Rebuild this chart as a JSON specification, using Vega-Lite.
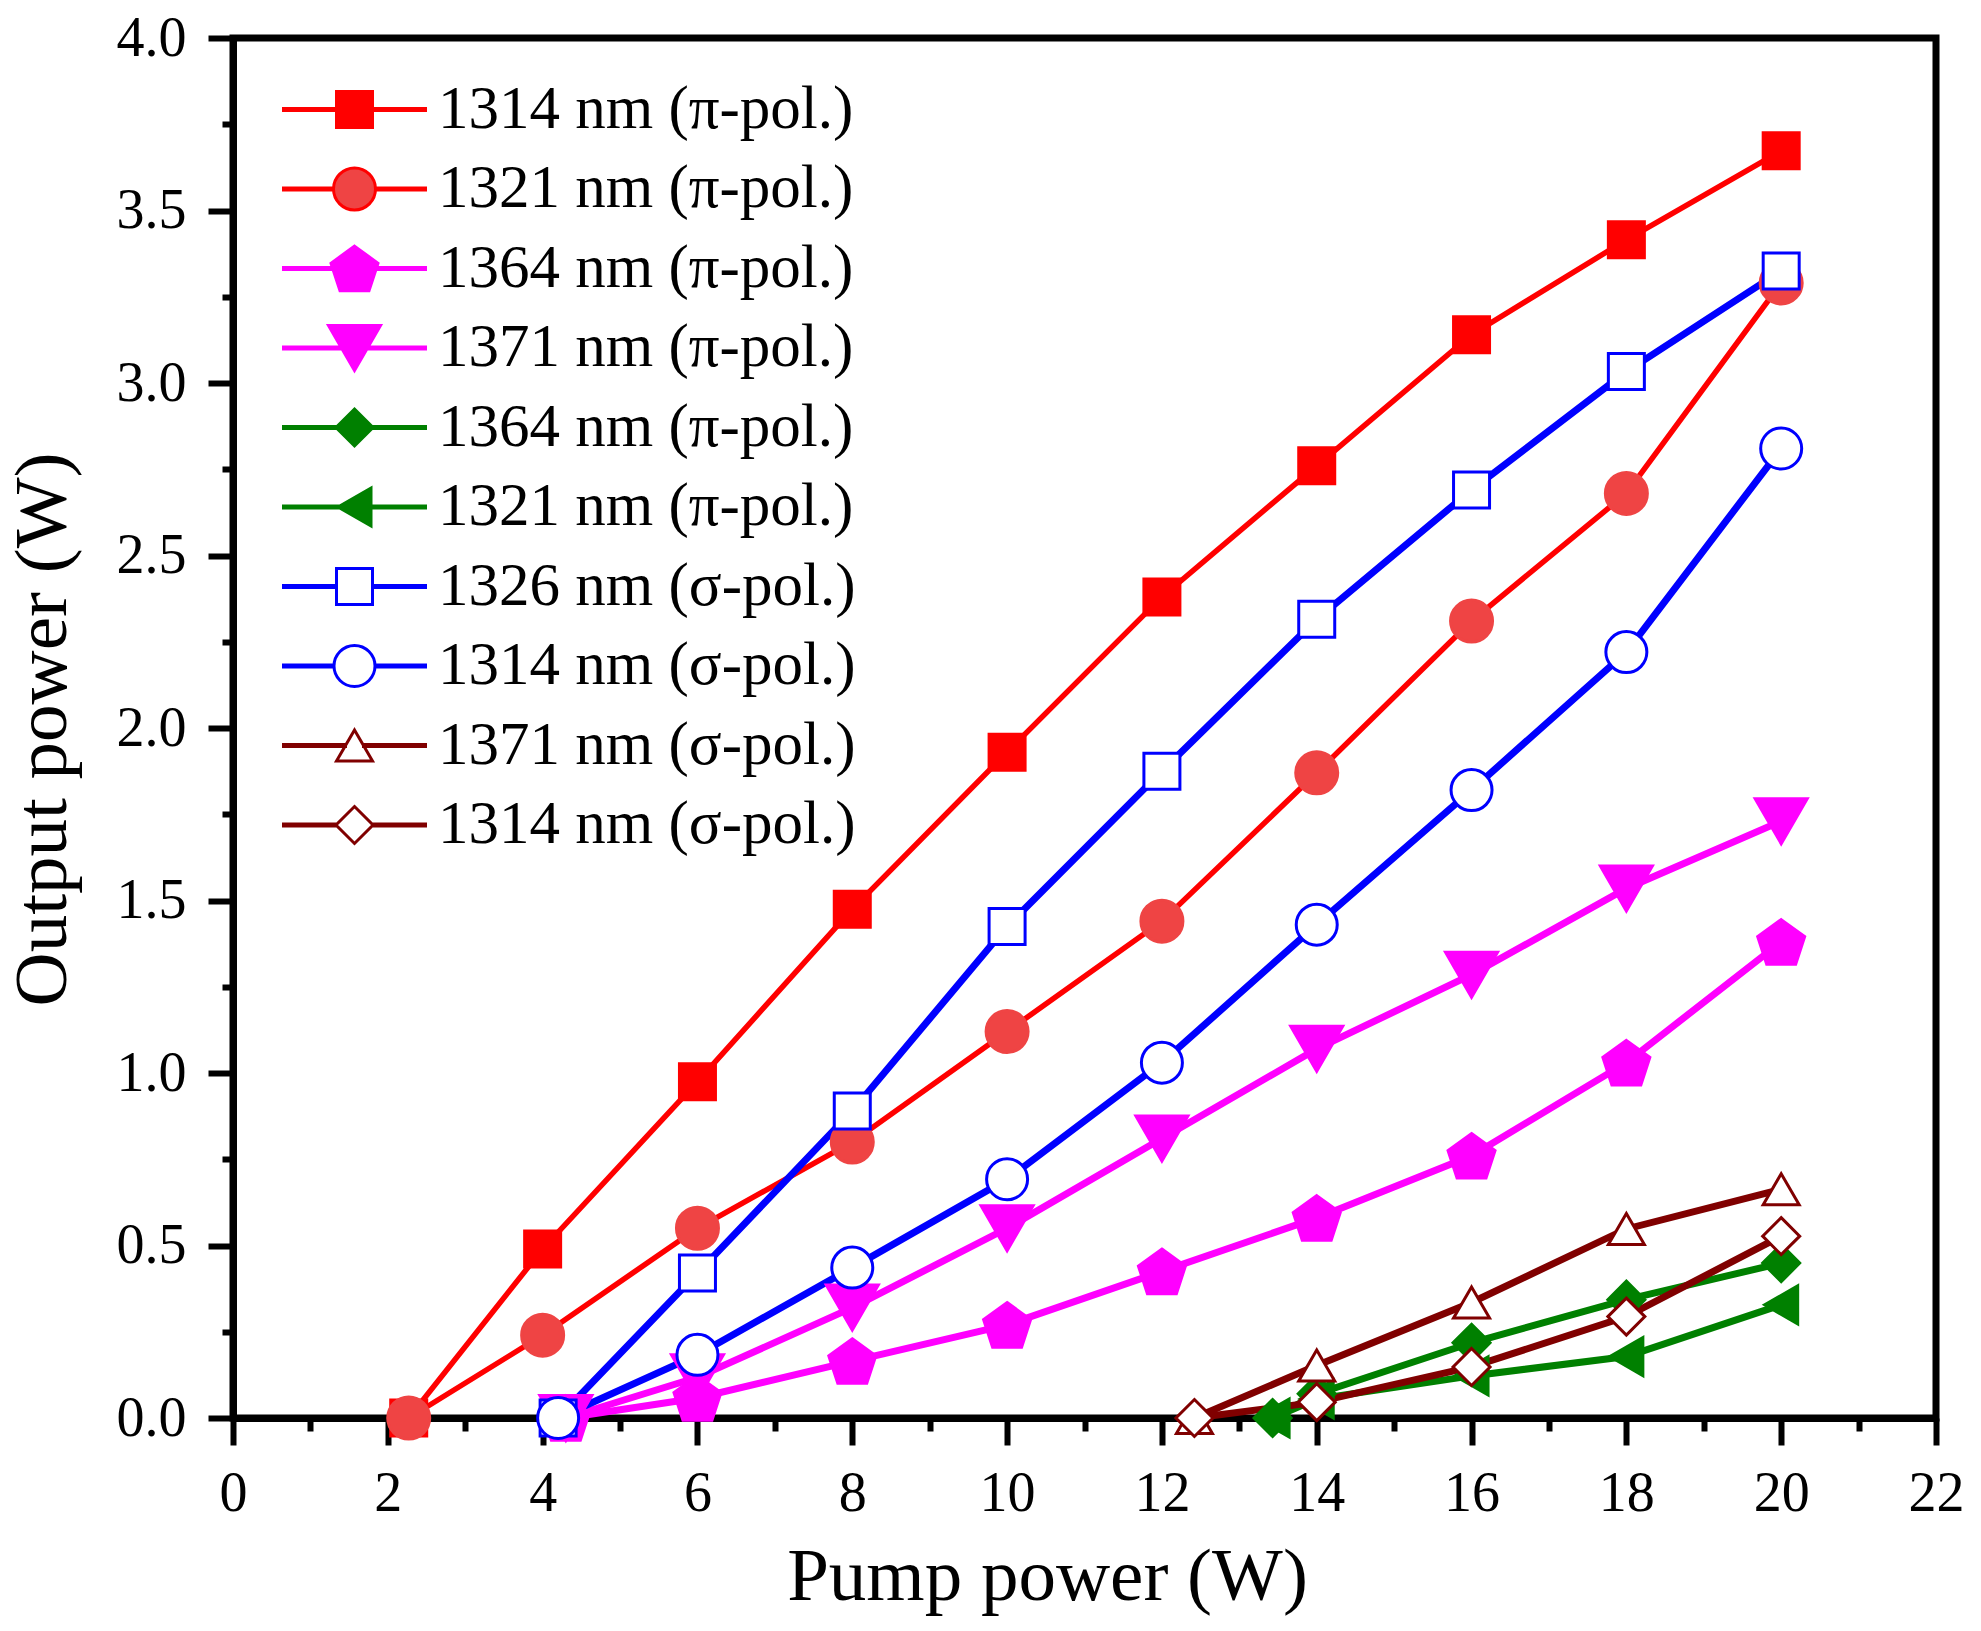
{
  "$schema": "https://vega.github.io/schema/vega-lite/v6.json",
  "width": 1703,
  "height": 1380,
  "autosize": {"type": "none"},
  "padding": {"left": 233, "top": 38, "right": 45, "bottom": 213},
  "background": "white",
  "config": {
    "view": {"stroke": "black", "strokeWidth": 7},
    "axis": {
      "grid": false,
      "domainColor": "black",
      "domainWidth": 7,
      "tickColor": "black",
      "tickWidth": 6,
      "labelFont": "Liberation Serif",
      "labelFontSize": 56,
      "labelColor": "black",
      "labelOverlap": false,
      "labelFlush": false,
      "titleFont": "Liberation Serif",
      "titleFontSize": 75,
      "titleFontWeight": "normal",
      "titleColor": "black"
    },
    "legend": {
      "orient": "none",
      "legendX": 91,
      "legendY": 41,
      "padding": 0,
      "rowPadding": 17.5,
      "symbolSize": 400,
      "symbolStrokeWidth": 3,
      "symbolOpacity": 1,
      "labelOffset": 53,
      "labelFont": "Liberation Serif",
      "labelFontSize": 61,
      "labelColor": "black",
      "labelLimit": 2000
    }
  },
  "data": {
    "values": [
      {"s": "A", "x": 2.27, "y": 0}, {"s": "A", "x": 4, "y": 0.49}, {"s": "A", "x": 6, "y": 0.975},
      {"s": "A", "x": 8, "y": 1.475}, {"s": "A", "x": 10, "y": 1.93}, {"s": "A", "x": 12, "y": 2.38},
      {"s": "A", "x": 14, "y": 2.76}, {"s": "A", "x": 16, "y": 3.14}, {"s": "A", "x": 18, "y": 3.415},
      {"s": "A", "x": 20, "y": 3.673},
      {"s": "B", "x": 2.27, "y": 0}, {"s": "B", "x": 4, "y": 0.24}, {"s": "B", "x": 6, "y": 0.55},
      {"s": "B", "x": 8, "y": 0.8}, {"s": "B", "x": 10, "y": 1.12}, {"s": "B", "x": 12, "y": 1.44},
      {"s": "B", "x": 14, "y": 1.87}, {"s": "B", "x": 16, "y": 2.31}, {"s": "B", "x": 18, "y": 2.68},
      {"s": "B", "x": 20, "y": 3.29},
      {"s": "C", "x": 4.3, "y": 0}, {"s": "C", "x": 6, "y": 0.058}, {"s": "C", "x": 8, "y": 0.165},
      {"s": "C", "x": 10, "y": 0.27}, {"s": "C", "x": 12, "y": 0.425}, {"s": "C", "x": 14, "y": 0.58},
      {"s": "C", "x": 16, "y": 0.76}, {"s": "C", "x": 18, "y": 1.03}, {"s": "C", "x": 20, "y": 1.38},
      {"s": "D", "x": 4.3, "y": 0}, {"s": "D", "x": 6, "y": 0.118}, {"s": "D", "x": 8, "y": 0.32},
      {"s": "D", "x": 10, "y": 0.55}, {"s": "D", "x": 12, "y": 0.81}, {"s": "D", "x": 14, "y": 1.07},
      {"s": "D", "x": 16, "y": 1.285}, {"s": "D", "x": 18, "y": 1.535}, {"s": "D", "x": 20, "y": 1.73},
      {"s": "E", "x": 13.43, "y": 0}, {"s": "E", "x": 14, "y": 0.07}, {"s": "E", "x": 16, "y": 0.218},
      {"s": "E", "x": 18, "y": 0.343}, {"s": "E", "x": 20, "y": 0.449},
      {"s": "F", "x": 13.43, "y": 0}, {"s": "F", "x": 14, "y": 0.055}, {"s": "F", "x": 16, "y": 0.122},
      {"s": "F", "x": 18, "y": 0.178}, {"s": "F", "x": 20, "y": 0.328},
      {"s": "G", "x": 4.2, "y": 0}, {"s": "G", "x": 6, "y": 0.42}, {"s": "G", "x": 8, "y": 0.89},
      {"s": "G", "x": 10, "y": 1.425}, {"s": "G", "x": 12, "y": 1.875}, {"s": "G", "x": 14, "y": 2.315},
      {"s": "G", "x": 16, "y": 2.69}, {"s": "G", "x": 18, "y": 3.033}, {"s": "G", "x": 20, "y": 3.325},
      {"s": "H", "x": 4.2, "y": 0}, {"s": "H", "x": 6, "y": 0.183}, {"s": "H", "x": 8, "y": 0.436},
      {"s": "H", "x": 10, "y": 0.692}, {"s": "H", "x": 12, "y": 1.03}, {"s": "H", "x": 14, "y": 1.43},
      {"s": "H", "x": 16, "y": 1.82}, {"s": "H", "x": 18, "y": 2.22}, {"s": "H", "x": 20, "y": 2.81},
      {"s": "I", "x": 12.42, "y": 0}, {"s": "I", "x": 14, "y": 0.152}, {"s": "I", "x": 16, "y": 0.335},
      {"s": "I", "x": 18, "y": 0.548}, {"s": "I", "x": 20, "y": 0.663},
      {"s": "J", "x": 12.42, "y": 0}, {"s": "J", "x": 14, "y": 0.046}, {"s": "J", "x": 16, "y": 0.148},
      {"s": "J", "x": 18, "y": 0.294}, {"s": "J", "x": 20, "y": 0.527}
    ]
  },
  "encoding": {
    "x": {
      "field": "x",
      "type": "quantitative",
      "scale": {"domain": [0, 22], "nice": false, "zero": false},
      "axis": {
        "title": "Pump power (W)",
        "values": [0, 1, 2, 3, 4, 5, 6, 7, 8, 9, 10, 11, 12, 13, 14, 15, 16, 17, 18, 19, 20, 21, 22],
        "labelExpr": "datum.value % 2 === 0 ? datum.label : ''",
        "tickSize": {"condition": {"test": "datum.value % 2 !== 0", "value": 13}, "value": 27},
        "labelPadding": 21,
        "titleX": 814,
        "titleY": 181,
        "titleBaseline": "alphabetic",
        "titleAlign": "center",
        "titleAnchor": null
      }
    },
    "y": {
      "field": "y",
      "type": "quantitative",
      "scale": {"domain": [0, 4], "nice": false},
      "axis": {
        "title": "Output power (W)",
        "values": [0, 0.25, 0.5, 0.75, 1, 1.25, 1.5, 1.75, 2, 2.25, 2.5, 2.75, 3, 3.25, 3.5, 3.75, 4],
        "labelExpr": "datum.value % 0.5 === 0 ? format(datum.value, '.1f') : ''",
        "tickSize": {"condition": {"test": "datum.value % 0.5 !== 0", "value": 11}, "value": 25},
        "labelPadding": 22,
        "titleX": -168,
        "titleY": 691,
        "titleAngle": 270,
        "titleBaseline": "alphabetic",
        "titleAlign": "center",
        "titleAnchor": null
      }
    }
  },
  "layer": [
    {
      "transform": [{"filter": {"field": "s", "oneOf": ["A", "B"]}}],
      "mark": {"type": "line", "strokeWidth": 5.5},
      "encoding": {
        "color": {
          "field": "s",
          "type": "nominal",
          "scale": {
            "range": ["#ff0000", "#ff0000", "#ff00ff", "#ff00ff", "#008000", "#008000", "#0000ff", "#0000ff", "#800000", "#800000"]
          },
          "legend": null
        }
      }
    },
    {
      "transform": [{"filter": {"not": {"field": "s", "oneOf": ["A", "B"]}}}],
      "mark": {"type": "line", "strokeWidth": 7},
      "encoding": {
        "color": {"field": "s", "type": "nominal", "legend": null}
      }
    },
    {
      "mark": {"type": "point", "size": 400, "strokeWidth": 3, "opacity": 1},
      "encoding": {
        "fill": {
          "field": "s",
          "type": "nominal",
          "scale": {
            "range": ["#ff0000", "#ef4444", "#ff00ff", "#ff00ff", "#008000", "#008000", "#ffffff", "#ffffff", "#ffffff", "#ffffff"]
          },
          "legend": null
        },
        "stroke": {
          "field": "s",
          "type": "nominal",
          "scale": {
            "range": ["#ff0000", "#ef4444", "#ff00ff", "#ff00ff", "#008000", "#008000", "#0000ff", "#0000ff", "#800000", "#800000"]
          },
          "legend": null
        },
        "shape": {
          "field": "s",
          "type": "nominal",
          "scale": {
            "range": [
              "M-1.8,-1.8L1.8,-1.8L1.8,1.8L-1.8,1.8Z",
              "M2.1,0C2.1,1.16,1.16,2.1,0,2.1C-1.16,2.1,-2.1,1.16,-2.1,0C-2.1,-1.16,-1.16,-2.1,0,-2.1C1.16,-2.1,2.1,-1.16,2.1,0Z",
              "M0,-2.23L2.35,-0.53L1.45,2.23L-1.45,2.23L-2.35,-0.53Z",
              "M-2.6,-2.25L2.6,-2.25L0,2.25Z",
              "M0,-1.85L1.85,0L0,1.85L-1.85,0Z",
              "M-1.65,0L1.65,-1.9L1.65,1.9Z",
              "M-1.8,-1.8L1.8,-1.8L1.8,1.8L-1.8,1.8Z",
              "M2.05,0C2.05,1.13,1.13,2.05,0,2.05C-1.13,2.05,-2.05,1.13,-2.05,0C-2.05,-1.13,-1.13,-2.05,0,-2.05C1.13,-2.05,2.05,-1.13,2.05,0Z",
              "M0,-1.55L1.8,1.55L-1.8,1.55Z",
              "M0,-1.85L1.85,0L0,1.85L-1.85,0Z"
            ]
          },
          "legend": null
        }
      }
    },
    {
      "mark": {"type": "point", "size": 400, "strokeWidth": 3, "opacity": 0},
      "encoding": {
        "fill": {
          "field": "s",
          "type": "nominal",
          "scale": {
            "domain": ["A", "B", "C", "D", "E", "F", "G", "H", "I", "J"],
            "range": ["#ff0000", "#ef4444", "#ff00ff", "#ff00ff", "#008000", "#008000", "#ffffff", "#ffffff", "#ffffff", "#ffffff"]
          },
          "legend": {
            "title": null,
            "labelExpr": "['1314 nm (π-pol.)','1321 nm (π-pol.)','1364 nm (π-pol.)','1371 nm (π-pol.)','1364 nm (π-pol.)','1321 nm (π-pol.)','1326 nm (σ-pol.)','1314 nm (σ-pol.)','1371 nm (σ-pol.)','1314 nm (σ-pol.)'][indexof(['A','B','C','D','E','F','G','H','I','J'], datum.value)]"
          }
        },
        "stroke": {
          "field": "s",
          "type": "nominal",
          "scale": {
            "domain": ["A", "B", "C", "D", "E", "F", "G", "H", "I", "J"],
            "range": ["#ff0000", "#ff0000", "#ff00ff", "#ff00ff", "#008000", "#008000", "#0000ff", "#0000ff", "#800000", "#800000"]
          },
          "legend": {
            "title": null,
            "labelExpr": "['1314 nm (π-pol.)','1321 nm (π-pol.)','1364 nm (π-pol.)','1371 nm (π-pol.)','1364 nm (π-pol.)','1321 nm (π-pol.)','1326 nm (σ-pol.)','1314 nm (σ-pol.)','1371 nm (σ-pol.)','1314 nm (σ-pol.)'][indexof(['A','B','C','D','E','F','G','H','I','J'], datum.value)]"
          }
        },
        "shape": {
          "field": "s",
          "type": "nominal",
          "scale": {
            "domain": ["A", "B", "C", "D", "E", "F", "G", "H", "I", "J"],
            "range": [
              "M-7.1,-0.1L-1.8,-0.1L-1.8,0.1L-7.1,0.1ZM1.8,-0.1L7.1,-0.1L7.1,0.1L1.8,0.1ZM-1.8,-1.8L1.8,-1.8L1.8,1.8L-1.8,1.8Z",
              "M-7.1,-0.1L-2.1,-0.1L-2.1,0.1L-7.1,0.1ZM2.1,-0.1L7.1,-0.1L7.1,0.1L2.1,0.1ZM2.1,0C2.1,1.16,1.16,2.1,0,2.1C-1.16,2.1,-2.1,1.16,-2.1,0C-2.1,-1.16,-1.16,-2.1,0,-2.1C1.16,-2.1,2.1,-1.16,2.1,0Z",
              "M-7.1,-0.1L-2.1,-0.1L-2.1,0.1L-7.1,0.1ZM2.1,-0.1L7.1,-0.1L7.1,0.1L2.1,0.1ZM0,-2.23L2.35,-0.53L1.45,2.23L-1.45,2.23L-2.35,-0.53Z",
              "M-7.1,-0.1L-1.3,-0.1L-1.3,0.1L-7.1,0.1ZM1.3,-0.1L7.1,-0.1L7.1,0.1L1.3,0.1ZM-2.6,-2.25L2.6,-2.25L0,2.25Z",
              "M-7.1,-0.1L-1.85,-0.1L-1.85,0.1L-7.1,0.1ZM1.85,-0.1L7.1,-0.1L7.1,0.1L1.85,0.1ZM0,-1.85L1.85,0L0,1.85L-1.85,0Z",
              "M-7.1,-0.1L-1.65,-0.1L-1.65,0.1L-7.1,0.1ZM1.65,-0.1L7.1,-0.1L7.1,0.1L1.65,0.1ZM-1.65,0L1.65,-1.9L1.65,1.9Z",
              "M-7.1,-0.1L-1.8,-0.1L-1.8,0.1L-7.1,0.1ZM1.8,-0.1L7.1,-0.1L7.1,0.1L1.8,0.1ZM-1.8,-1.8L1.8,-1.8L1.8,1.8L-1.8,1.8Z",
              "M-7.1,-0.1L-2.05,-0.1L-2.05,0.1L-7.1,0.1ZM2.05,-0.1L7.1,-0.1L7.1,0.1L2.05,0.1ZM2.05,0C2.05,1.13,1.13,2.05,0,2.05C-1.13,2.05,-2.05,1.13,-2.05,0C-2.05,-1.13,-1.13,-2.05,0,-2.05C1.13,-2.05,2.05,-1.13,2.05,0Z",
              "M-7.1,-0.1L-0.9,-0.1L-0.9,0.1L-7.1,0.1ZM0.9,-0.1L7.1,-0.1L7.1,0.1L0.9,0.1ZM0,-1.55L1.8,1.55L-1.8,1.55Z",
              "M-7.1,-0.1L-1.85,-0.1L-1.85,0.1L-7.1,0.1ZM1.85,-0.1L7.1,-0.1L7.1,0.1L1.85,0.1ZM0,-1.85L1.85,0L0,1.85L-1.85,0Z"
            ]
          },
          "legend": {
            "title": null,
            "labelExpr": "['1314 nm (π-pol.)','1321 nm (π-pol.)','1364 nm (π-pol.)','1371 nm (π-pol.)','1364 nm (π-pol.)','1321 nm (π-pol.)','1326 nm (σ-pol.)','1314 nm (σ-pol.)','1371 nm (σ-pol.)','1314 nm (σ-pol.)'][indexof(['A','B','C','D','E','F','G','H','I','J'], datum.value)]"
          }
        }
      }
    }
  ],
  "resolve": {"scale": {"fill": "independent", "stroke": "independent", "shape": "independent"}}
}
